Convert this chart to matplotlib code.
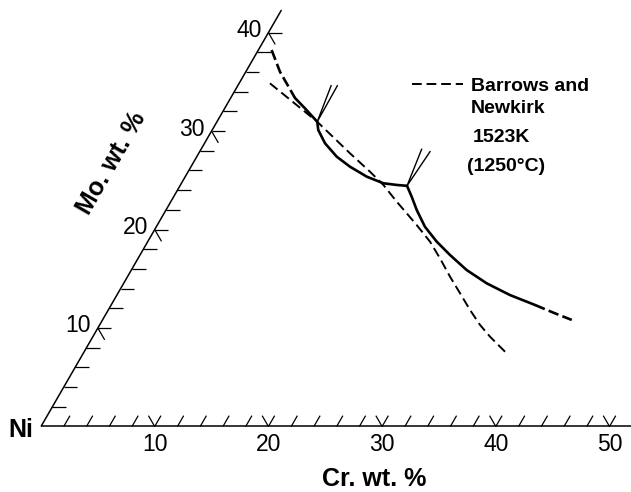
import numpy as np
import matplotlib

matplotlib.use("Agg")
import matplotlib.pyplot as plt
from matplotlib.collections import LineCollection

# ── phase boundaries, as (Cr wt.%, Mo wt.%) ─────────────────────────────────
UPPER_DASH_CR = [1.17, 3.0, 5.66]
UPPER_DASH_MO = [38.23, 36.03, 33.36]
UPPER_SOLID_CR = [5.66, 7.06, 8.82]
UPPER_SOLID_MO = [33.36, 32.31, 30.95]
MID_CR = [8.82, 9.33, 10.60, 12.31, 13.99, 15.97, 17.76, 19.02, 19.97]
MID_MO = [30.95, 30.11, 28.76, 27.40, 26.38, 25.37, 24.70, 24.53, 24.44]
LOW_SOLID_CR = [19.97, 20.93, 22.05, 23.62, 25.42, 27.26, 29.49, 31.93, 34.57, 37.28]
LOW_SOLID_MO = [24.44, 23.34, 21.99, 20.29, 18.77, 17.42, 15.89, 14.54, 13.35, 12.34]
LOW_DASH_CR = [37.28, 39.28, 41.27]
LOW_DASH_MO = [12.34, 11.56, 10.82]

# short tie lines leaving the two three-phase corners
TIE1_CR = [8.21, 8.82, 8.76]
TIE1_MO = [34.61, 30.95, 34.61]
TIE2_CR = [19.40, 19.97, 20.26]
TIE2_MO = [28.15, 24.44, 27.91]

# Barrows and Newkirk boundary
BN_CR = [2.71, 8.82, 13.31, 15.99, 17.85, 19.87, 21.34, 22.81, 24.83, 26.55,
         28.37, 30.09, 31.82, 33.46, 34.93, 37.24]
BN_MO = [34.85, 30.95, 27.74, 25.88, 24.53, 22.83, 21.65, 20.46, 18.77, 17.08,
         15.21, 13.53, 11.83, 10.31, 9.12, 7.43]

CR_TICKS = list(range(2, 51, 2))
CR_MAJOR = [10, 20, 30, 40, 50]
MO_TICKS = list(range(2, 41, 2))
MO_MAJOR = [10, 20, 30, 40]
CR_MAX = 52
MO_MAX = 42.3

INK = "black"
FONT = "Liberation Sans"


def tern(cr, mo):
    """(Cr, Mo) wt.% -> cartesian, Ni corner at origin, Mo axis at 60 deg."""
    cr = np.asarray(cr, dtype=float)
    mo = np.asarray(mo, dtype=float)
    return cr + mo / 2.0, mo * np.sqrt(3) / 2.0


def main():
    plt.rcParams["font.family"] = FONT
    fig = plt.figure(figsize=(6.31, 4.92), dpi=100)
    ax = fig.add_axes([0, 0, 1, 1])
    ax.set_xlim(-3.606, 51.89)
    ax.set_ylim(-5.761, 37.51)
    ax.set_axis_off()

    # ── triangle edges ──────────────────────────────────────────────────────
    ax.plot(*tern([0, CR_MAX], [0, 0]), color=INK, lw=1.1, solid_capstyle="butt")
    ax.plot(*tern([0, 0], [0, MO_MAX]), color=INK, lw=1.1, solid_capstyle="butt")

    # ── ticks ───────────────────────────────────────────────────────────────
    segs = []
    L = 1.1
    for c in CR_TICKS:
        segs.append(np.column_stack(tern([c, c], [0, L])))
        if c in CR_MAJOR:
            segs.append(np.column_stack(tern([c, c - L], [0, L])))
    L = 1.2
    for m in MO_TICKS:
        segs.append(np.column_stack(tern([0, L], [m, m])))
        if m in MO_MAJOR:
            segs.append(np.column_stack(tern([0, L], [m, m - L])))
    ax.add_collection(LineCollection(segs, colors=INK, linewidths=0.9))

    for c in CR_MAJOR:
        x, _ = tern(c, 0)
        ax.text(x, -2.15, f"{c}", ha="center", va="baseline", fontsize=16.5, color=INK)
    for m in MO_MAJOR:
        ax.annotate(f"{m}", tern(0, m), textcoords="offset points",
                    xytext=(-5.0, -3.2), ha="right", va="baseline",
                    fontsize=16.5, color=INK)

    ax.text(-0.7, -0.92, "Ni", ha="right", va="baseline", fontsize=18,
            fontweight="bold", color=INK)
    ax.text(29.33, -5.23, "Cr. wt. %", ha="center", va="baseline", fontsize=18,
            fontweight="bold", color=INK)
    ax.text(6.24, 23.17, "Mo. wt. %", ha="center", va="center", rotation=60,
            rotation_mode="anchor", fontsize=18, fontweight="bold", color=INK)

    # ── present work ────────────────────────────────────────────────────────
    thick = dict(color=INK, lw=1.9, solid_capstyle="round")
    ax.plot(*tern(UPPER_SOLID_CR, UPPER_SOLID_MO), **thick)
    ax.plot(*tern(MID_CR, MID_MO), **thick)
    ax.plot(*tern(LOW_SOLID_CR, LOW_SOLID_MO), **thick)
    ax.plot(*tern(UPPER_DASH_CR, UPPER_DASH_MO), color=INK, lw=1.9,
            ls=(0, (4, 1.6)), dash_capstyle="butt")
    ax.plot(*tern(LOW_DASH_CR, LOW_DASH_MO), color=INK, lw=1.9,
            ls=(0, (4, 1.6)), dash_capstyle="butt")
    ax.plot(*tern(TIE1_CR, TIE1_MO), color=INK, lw=1.0)
    ax.plot(*tern(TIE2_CR, TIE2_MO), color=INK, lw=1.0)

    # ── Barrows and Newkirk ─────────────────────────────────────────────────
    bn, = ax.plot(*tern(BN_CR, BN_MO), color=INK, lw=1.4,
                  ls=(0, (5, 2.5)), dash_capstyle="butt")

    ax.legend([bn], ["Barrows and"], loc="center left",
              bbox_to_anchor=(32.63, 29.95), bbox_transform=ax.transData,
              frameon=False, borderpad=0, borderaxespad=0, handlelength=2.6,
              handletextpad=0.45, prop={"family": FONT, "weight": "bold", "size": 14})
    ax.text(37.82, 27.55, "Newkirk", ha="left", va="baseline", fontsize=14,
            fontweight="bold", color=INK)
    ax.text(37.99, 25.05, "1523K", ha="left", va="baseline", fontsize=14,
            fontweight="bold", color=INK)
    ax.text(37.47, 22.5, "(1250°C)", ha="left", va="baseline", fontsize=14,
            fontweight="bold", color=INK)

    fig.savefig("out.png", dpi=100)


if __name__ == "__main__":
    main()
